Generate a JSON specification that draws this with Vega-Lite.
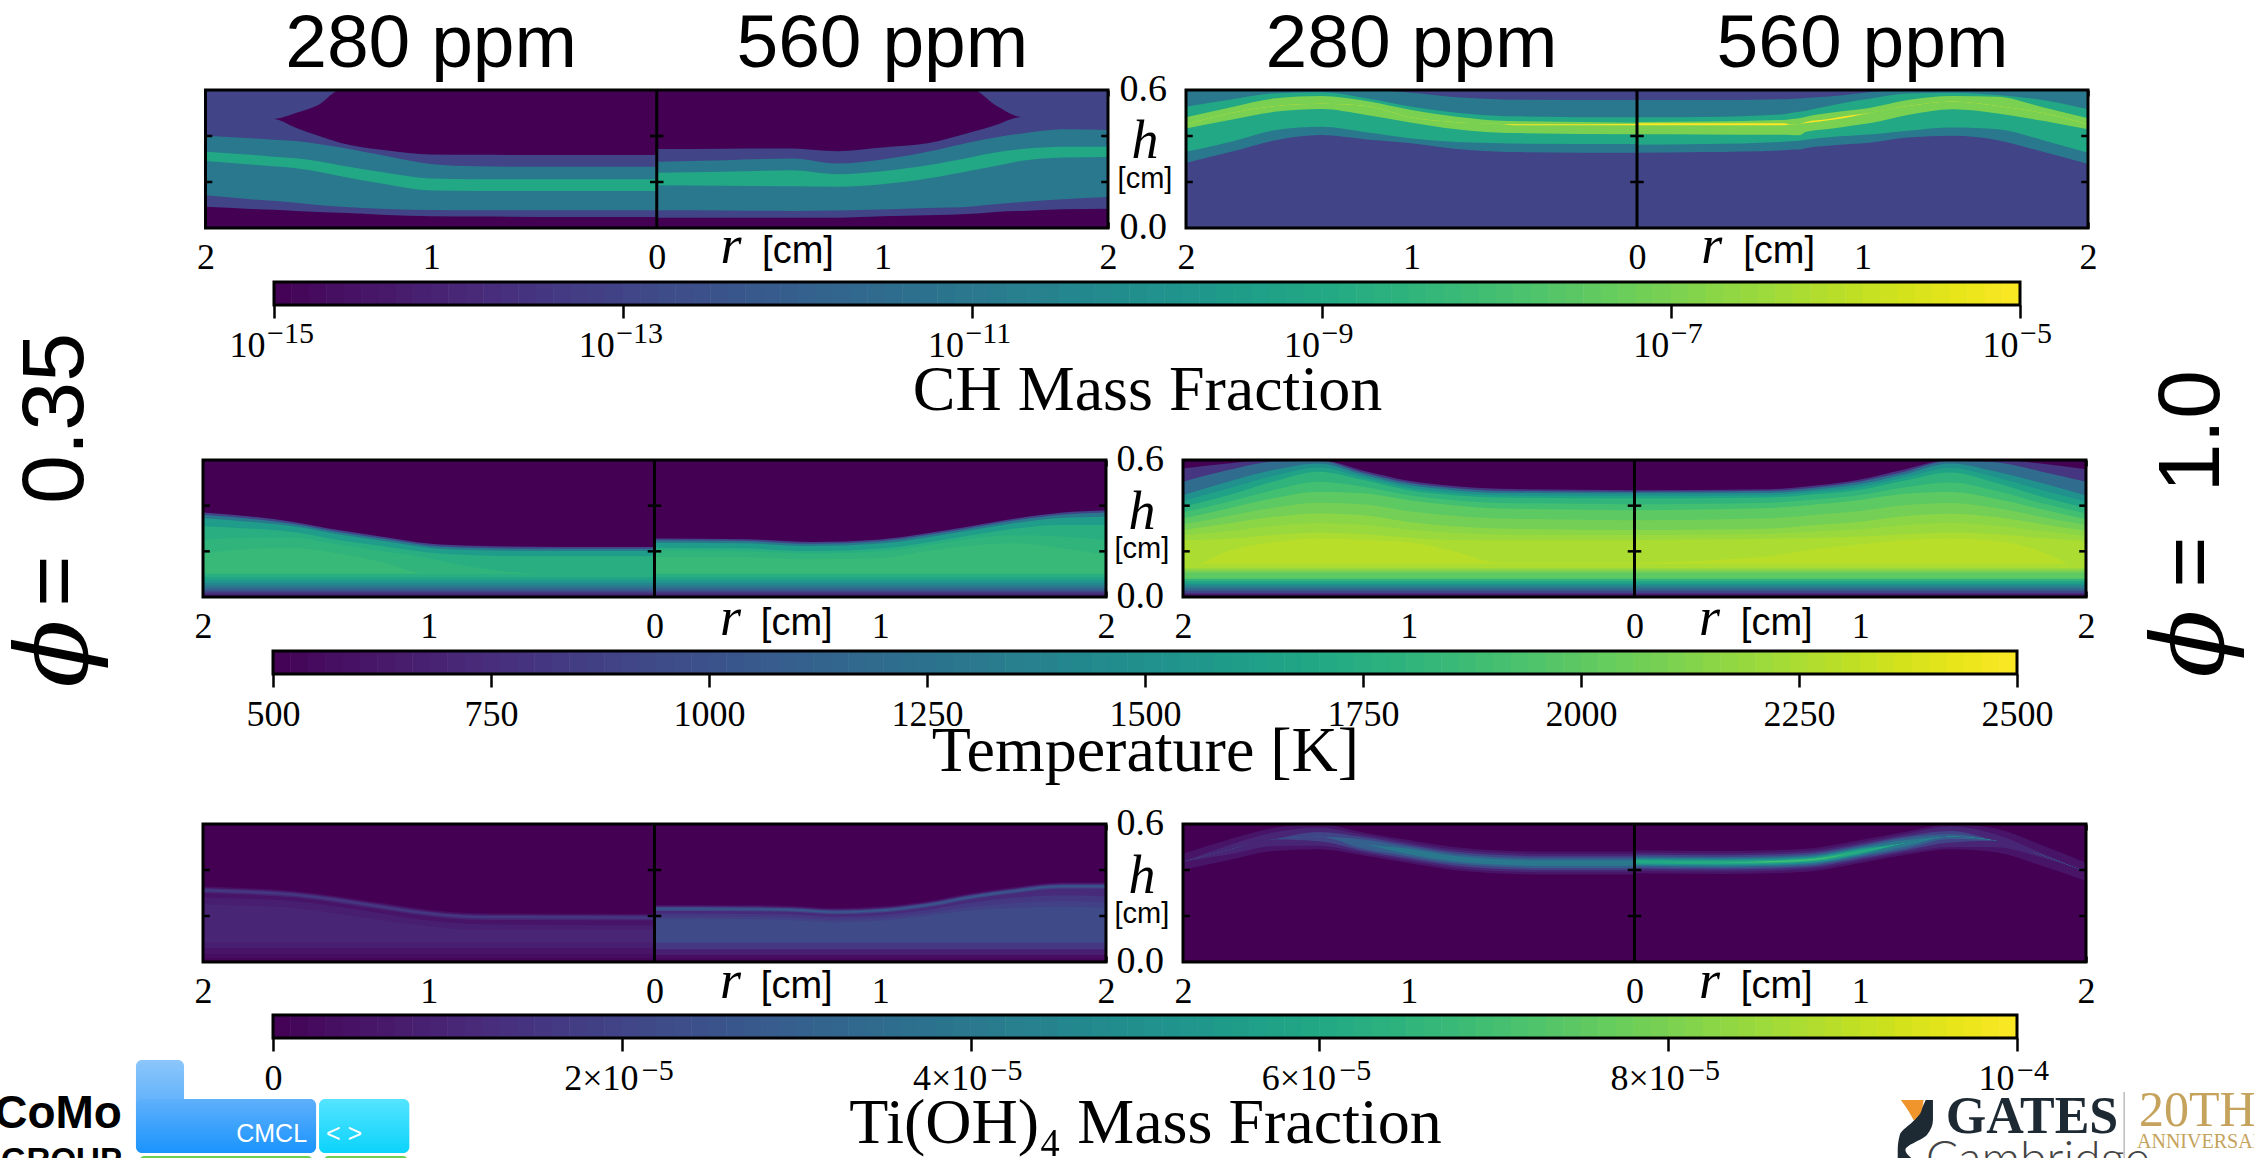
{"$schema":"https://vega.github.io/schema/vega-lite/v6.json","width":2254,"height":1158,"autosize":{"type":"none"},"padding":0,"background":"white",
"config":{"view":{"stroke":null},"legend":{"disable":true},"axis":{"zindex":1,"grid":false,"domain":false,"tickColor":"black","tickWidth":2.5,"labelFont":"Liberation Serif","labelFontSize":36,"labelColor":"black","labelOverlap":false,"labelFlush":false,"labelBound":false,"titleFont":"Liberation Serif","titleFontWeight":"normal","titleColor":"black","titleFontSize":64,"titleBaseline":"alphabetic"},
"style":{"ppm":{"font":"Liberation Sans","fontSize":75,"align":"center","baseline":"alphabetic"},"rl":{"font":"Liberation Serif","fontStyle":"italic","fontSize":54,"align":"center","baseline":"alphabetic"},"cm":{"font":"Liberation Sans","fontSize":38,"align":"center","baseline":"alphabetic"},"cm2":{"font":"Liberation Sans","fontSize":29,"align":"center","baseline":"alphabetic"},"yl":{"font":"Liberation Serif","fontSize":38,"align":"right","baseline":"middle"},"sup":{"font":"Liberation Serif","fontSize":30,"align":"left","baseline":"alphabetic"},"phi":{"font":"DejaVu Serif","fontStyle":"italic","fontSize":100,"angle":270,"align":"center","baseline":"middle"},"phn":{"font":"Liberation Sans","fontSize":88,"angle":270,"align":"center","baseline":"middle"},"como":{"font":"Liberation Sans","fontWeight":"bold","fontSize":46,"align":"right","baseline":"alphabetic"},"grp":{"font":"Liberation Sans","fontWeight":"bold","fontSize":33,"align":"right","baseline":"alphabetic"},"wt":{"font":"Liberation Sans","fontSize":25,"align":"right","baseline":"alphabetic"},"gates":{"font":"Liberation Serif","fontWeight":"bold","fontSize":52,"align":"left","baseline":"alphabetic"},"camb":{"font":"Lato","fontWeight":300,"fontSize":48,"align":"left","baseline":"alphabetic"},"gold":{"font":"Liberation Serif","fontSize":50,"align":"left","baseline":"alphabetic"},"gold2":{"font":"Liberation Serif","fontSize":20,"align":"left","baseline":"alphabetic"}}},
"resolve":{"scale":{"x":"independent","y":"independent","color":"independent","stroke":"independent"},"axis":{"x":"independent","y":"independent"}},
"datasets":{
"o":[{"r":0,"h":0}],
"yt":[{"r":-2,"r2":-1.97,"h":0.2},{"r":-2,"r2":-1.97,"h":0.4},{"r":-0.03,"r2":0.03,"h":0.2},{"r":-0.03,"r2":0.03,"h":0.4},{"r":1.97,"r2":2,"h":0.2},{"r":1.97,"r2":2,"h":0.4}],
"ch1a":[
{"r":-2,"-13":0.6,"-15":0.474,"-013":0.474,"-11":0.401,"-9":0.331,"-011":0.291,"-0013":0.142,"-015":0.092},
{"r":-1.8,"-13":0.6,"-15":0.474,"-013":0.474,"-11":0.39,"-9":0.318,"-011":0.276,"-0013":0.125,"-015":0.083},
{"r":-1.7,"-13":0.6,"-15":0.474,"-013":0.474,"-11":0.384,"-9":0.31,"-011":0.268,"-0013":0.118,"-015":0.079},
{"r":-1.6,"-13":0.6,"-15":0.5,"-013":0.436,"-11":0.378,"-9":0.303,"-011":0.26,"-0013":0.11,"-015":0.074},
{"r":-1.5,"-13":0.6,"-15":0.535,"-013":0.401,"-11":0.365,"-9":0.29,"-011":0.245,"-0013":0.1,"-015":0.07},
{"r":-1.4,"-13":0.6,"-15":0.6,"-013":0.37,"-11":0.35,"-9":0.272,"-011":0.225,"-0013":0.092,"-015":0.066},
{"r":-1.2,"-13":0.6,"-15":0.6,"-013":0.338,"-11":0.313,"-9":0.24,"-011":0.19,"-0013":0.083,"-015":0.057},
{"r":-1,"-13":0.6,"-15":0.6,"-013":0.32,"-11":0.278,"-9":0.215,"-011":0.163,"-0013":0.078,"-015":0.051},
{"r":-0.8,"-13":0.6,"-15":0.6,"-013":0.318,"-11":0.268,"-9":0.212,"-011":0.161,"-0013":0.077,"-015":0.05},
{"r":-0.4,"-13":0.6,"-15":0.6,"-013":0.317,"-11":0.266,"-9":0.212,"-011":0.161,"-0013":0.077,"-015":0.048},
{"r":0,"-13":0.6,"-15":0.6,"-013":0.317,"-11":0.266,"-9":0.212,"-011":0.161,"-0013":0.077,"-015":0.048}],
"ch1b":[
{"r":0,"-13":0.6,"-15":0.6,"-013":0.343,"-11":0.288,"-9":0.24,"-011":0.186,"-0013":0.077,"-015":0.045},
{"r":0.3,"-13":0.6,"-15":0.6,"-013":0.345,"-11":0.295,"-9":0.245,"-011":0.184,"-0013":0.076,"-015":0.045},
{"r":0.6,"-13":0.6,"-15":0.6,"-013":0.346,"-11":0.302,"-9":0.251,"-011":0.181,"-0013":0.074,"-015":0.045},
{"r":0.8,"-13":0.6,"-15":0.6,"-013":0.334,"-11":0.28,"-9":0.234,"-011":0.179,"-0013":0.076,"-015":0.045},
{"r":1,"-13":0.6,"-15":0.6,"-013":0.35,"-11":0.298,"-9":0.247,"-011":0.19,"-0013":0.08,"-015":0.051},
{"r":1.2,"-13":0.6,"-15":0.6,"-013":0.368,"-11":0.331,"-9":0.273,"-011":0.215,"-0013":0.087,"-015":0.055},
{"r":1.4,"-13":0.6,"-15":0.6,"-013":0.418,"-11":0.375,"-9":0.309,"-011":0.251,"-0013":0.094,"-015":0.062},
{"r":1.5,"-13":0.6,"-15":0.535,"-013":0.447,"-11":0.394,"-9":0.328,"-011":0.27,"-0013":0.103,"-015":0.07},
{"r":1.62,"-13":0.6,"-15":0.483,"-013":0.483,"-11":0.411,"-9":0.343,"-011":0.292,"-0013":0.113,"-015":0.074},
{"r":1.8,"-13":0.6,"-15":0.483,"-013":0.483,"-11":0.429,"-9":0.353,"-011":0.307,"-0013":0.125,"-015":0.081},
{"r":2,"-13":0.6,"-15":0.483,"-013":0.483,"-11":0.426,"-9":0.353,"-011":0.309,"-0013":0.135,"-015":0.084}],
"ch2a":[
{"r":-2,"-13":0.6,"-11":0.6,"-9":0.527,"-7":0.481,"-5":0.45,"-07":0.45,"-09":0.433,"-011":0.331,"-013":0.283},
{"r":-1.8,"-13":0.6,"-11":0.6,"-9":0.559,"-7":0.525,"-5":0.5,"-07":0.5,"-09":0.471,"-011":0.375,"-013":0.331},
{"r":-1.6,"-13":0.6,"-11":0.6,"-9":0.586,"-7":0.564,"-5":0.53,"-07":0.53,"-09":0.506,"-011":0.426,"-013":0.382},
{"r":-1.4,"-13":0.6,"-11":0.6,"-9":0.59,"-7":0.574,"-5":0.54,"-07":0.54,"-09":0.517,"-011":0.44,"-013":0.404},
{"r":-1.2,"-13":0.6,"-11":0.6,"-9":0.564,"-7":0.552,"-5":0.53,"-07":0.53,"-09":0.491,"-011":0.416,"-013":0.385},
{"r":-1,"-13":0.6,"-11":0.588,"-9":0.527,"-7":0.513,"-5":0.48,"-07":0.48,"-09":0.458,"-011":0.389,"-013":0.368},
{"r":-0.8,"-13":0.6,"-11":0.568,"-9":0.501,"-7":0.484,"-5":0.46,"-07":0.46,"-09":0.429,"-011":0.374,"-013":0.343},
{"r":-0.6,"-13":0.6,"-11":0.559,"-9":0.487,"-7":0.466,"-5":0.452,"-07":0.452,"-09":0.414,"-011":0.368,"-013":0.331},
{"r":-0.55,"-13":0.6,"-11":0.558,"-9":0.486,"-7":0.465,"-5":0.451,"-07":0.447,"-09":0.413,"-011":0.367,"-013":0.33},
{"r":0,"-13":0.6,"-11":0.556,"-9":0.481,"-7":0.458,"-5":0.452,"-07":0.447,"-09":0.408,"-011":0.365,"-013":0.327}],
"ch2b":[
{"r":0,"-13":0.6,"-11":0.556,"-9":0.481,"-7":0.461,"-5":0.455,"-07":0.447,"-09":0.408,"-011":0.362,"-013":0.327},
{"r":0.3,"-13":0.6,"-11":0.556,"-9":0.483,"-7":0.463,"-5":0.455,"-07":0.447,"-09":0.407,"-011":0.365,"-013":0.33},
{"r":0.65,"-13":0.6,"-11":0.56,"-9":0.495,"-7":0.47,"-5":0.455,"-07":0.447,"-09":0.405,"-011":0.375,"-013":0.338},
{"r":0.68,"-13":0.6,"-11":0.561,"-9":0.5,"-7":0.473,"-5":0.45,"-07":0.45,"-09":0.404,"-011":0.377,"-013":0.34},
{"r":0.72,"-13":0.6,"-11":0.563,"-9":0.505,"-7":0.477,"-5":0.452,"-07":0.452,"-09":0.403,"-011":0.379,"-013":0.341},
{"r":0.75,"-13":0.6,"-11":0.565,"-9":0.51,"-7":0.484,"-5":0.461,"-07":0.456,"-09":0.418,"-011":0.384,"-013":0.348},
{"r":0.85,"-13":0.6,"-11":0.572,"-9":0.53,"-7":0.5,"-5":0.474,"-07":0.468,"-09":0.43,"-011":0.395,"-013":0.358},
{"r":0.95,"-13":0.6,"-11":0.582,"-9":0.55,"-7":0.512,"-5":0.49,"-07":0.484,"-09":0.445,"-011":0.401,"-013":0.365},
{"r":1.03,"-13":0.6,"-11":0.59,"-9":0.562,"-7":0.522,"-5":0.5,"-07":0.5,"-09":0.455,"-011":0.406,"-013":0.371},
{"r":1.2,"-13":0.6,"-11":0.6,"-9":0.585,"-7":0.556,"-5":0.53,"-07":0.53,"-09":0.491,"-011":0.423,"-013":0.394},
{"r":1.4,"-13":0.6,"-11":0.6,"-9":0.588,"-7":0.574,"-5":0.55,"-07":0.55,"-09":0.516,"-011":0.437,"-013":0.401},
{"r":1.6,"-13":0.6,"-11":0.6,"-9":0.578,"-7":0.571,"-5":0.53,"-07":0.53,"-09":0.498,"-011":0.429,"-013":0.382},
{"r":1.8,"-13":0.6,"-11":0.6,"-9":0.556,"-7":0.525,"-5":0.5,"-07":0.5,"-09":0.466,"-011":0.382,"-013":0.331},
{"r":2,"-13":0.6,"-11":0.6,"-9":0.516,"-7":0.477,"-5":0.45,"-07":0.45,"-09":0.429,"-011":0.327,"-013":0.278}],
"t1a":[
{"r":-2,"0500":0.6,"0900":0.37,"1300":0.36,"1600":0.345,"1750":0.31,"1800":0.25,"1850":0.19},
{"r":-1.8,"0500":0.6,"0900":0.354,"1300":0.344,"1600":0.33,"1750":0.3,"1800":0.26,"1850":0.21},
{"r":-1.6,"0500":0.6,"0900":0.329,"1300":0.32,"1600":0.31,"1750":0.285,"1800":0.26,"1850":0.215},
{"r":-1.4,"0500":0.6,"0900":0.293,"1300":0.285,"1600":0.275,"1750":0.25,"1800":0.23,"1850":0.19},
{"r":-1.2,"0500":0.6,"0900":0.263,"1300":0.255,"1600":0.245,"1750":0.222,"1800":0.2,"1850":0.15},
{"r":-1,"0500":0.6,"0900":0.234,"1300":0.226,"1600":0.216,"1750":0.195,"1800":0.17,"1850":0.1},
{"r":-0.8,"0500":0.6,"0900":0.224,"1300":0.216,"1600":0.206,"1750":0.183,"1800":0.13,"1850":0.1},
{"r":-0.4,"0500":0.6,"0900":0.219,"1300":0.211,"1600":0.201,"1750":0.178,"1800":0.1,"1850":0.1},
{"r":0,"0500":0.6,"0900":0.219,"1300":0.211,"1600":0.201,"1750":0.178,"1800":0.1,"1850":0.1}],
"t1b":[
{"r":0,"0500":0.6,"0900":0.256,"1300":0.248,"1600":0.238,"1750":0.216,"1800":0.205,"1850":0.175},
{"r":0.4,"0500":0.6,"0900":0.253,"1300":0.245,"1600":0.235,"1750":0.213,"1800":0.2,"1850":0.175},
{"r":0.7,"0500":0.6,"0900":0.241,"1300":0.233,"1600":0.223,"1750":0.201,"1800":0.19,"1850":0.165},
{"r":1,"0500":0.6,"0900":0.252,"1300":0.244,"1600":0.234,"1750":0.212,"1800":0.2,"1850":0.17},
{"r":1.2,"0500":0.6,"0900":0.278,"1300":0.27,"1600":0.26,"1750":0.238,"1800":0.225,"1850":0.2},
{"r":1.4,"0500":0.6,"0900":0.31,"1300":0.302,"1600":0.292,"1750":0.27,"1800":0.255,"1850":0.225},
{"r":1.6,"0500":0.6,"0900":0.344,"1300":0.336,"1600":0.324,"1750":0.3,"1800":0.27,"1850":0.235},
{"r":1.8,"0500":0.6,"0900":0.369,"1300":0.36,"1600":0.346,"1750":0.315,"1800":0.265,"1850":0.215},
{"r":2,"0500":0.6,"0900":0.38,"1300":0.37,"1600":0.352,"1750":0.315,"1800":0.25,"1850":0.185}],
"t1c":[{"r":-2,"01750":0.102,"01650":0.087,"01550":0.073,"01420":0.062,"01300":0.051,"01150":0.041,"01000":0.032,"0850":0.023,"0700":0.015},{"r":2,"01750":0.102,"01650":0.087,"01550":0.073,"01420":0.062,"01300":0.051,"01150":0.041,"01000":0.032,"0850":0.023,"0700":0.015}],
"t2a":[
{"r":-2,"0500":0.6,"0800":0.563,"1200":0.505,"1500":0.446,"1650":0.42,"1800":0.395,"1900":0.37,"2000":0.344,"2075":0.318,"2150":0.293,"2200":0.271,"2250":0.249,"2290":0.1},
{"r":-1.8,"0500":0.6,"0800":0.585,"1200":0.556,"1500":0.505,"1650":0.475,"1800":0.446,"1900":0.417,"2000":0.388,"2075":0.355,"2150":0.322,"2200":0.288,"2250":0.255,"2290":0.2},
{"r":-1.6,"0500":0.6,"0800":0.6,"1200":0.593,"1500":0.556,"1650":0.53,"1800":0.505,"1900":0.468,"2000":0.432,"2075":0.391,"2150":0.351,"2200":0.311,"2250":0.271,"2290":0.24},
{"r":-1.4,"0500":0.6,"0800":0.6,"1200":0.597,"1500":0.585,"1650":0.567,"1800":0.549,"1900":0.505,"2000":0.461,"2075":0.413,"2150":0.366,"2200":0.323,"2250":0.281,"2290":0.255},
{"r":-1.2,"0500":0.6,"0800":0.553,"1200":0.544,"1500":0.534,"1650":0.523,"1800":0.512,"1900":0.483,"2000":0.454,"2075":0.406,"2150":0.358,"2200":0.316,"2250":0.275,"2290":0.25},
{"r":-1,"0500":0.6,"0800":0.509,"1200":0.5,"1500":0.49,"1650":0.479,"1800":0.468,"1900":0.446,"2000":0.424,"2075":0.376,"2150":0.329,"2200":0.294,"2250":0.26,"2290":0.24},
{"r":-0.8,"0500":0.6,"0800":0.486,"1200":0.477,"1500":0.468,"1650":0.457,"1800":0.446,"1900":0.424,"2000":0.402,"2075":0.356,"2150":0.31,"2200":0.28,"2250":0.25,"2290":0.2},
{"r":-0.6,"0500":0.6,"0800":0.474,"1200":0.465,"1500":0.456,"1650":0.446,"1800":0.436,"1900":0.412,"2000":0.388,"2075":0.344,"2150":0.3,"2200":0.274,"2250":0.249,"2290":0.15},
{"r":0,"0500":0.6,"0800":0.468,"1200":0.461,"1500":0.454,"1650":0.443,"1800":0.432,"1900":0.406,"2000":0.38,"2075":0.336,"2150":0.293,"2200":0.271,"2250":0.249,"2290":0.15}],
"t2b":[
{"r":0,"0500":0.6,"0800":0.468,"1200":0.461,"1500":0.454,"1650":0.443,"1800":0.432,"1900":0.406,"2000":0.38,"2075":0.336,"2150":0.293,"2200":0.271,"2250":0.25,"2290":0.15},
{"r":0.6,"0500":0.6,"0800":0.472,"1200":0.465,"1500":0.456,"1650":0.446,"1800":0.436,"1900":0.413,"2000":0.39,"2075":0.345,"2150":0.3,"2200":0.277,"2250":0.255,"2290":0.18},
{"r":0.8,"0500":0.6,"0800":0.488,"1200":0.48,"1500":0.47,"1650":0.46,"1800":0.45,"1900":0.427,"2000":0.405,"2075":0.36,"2150":0.315,"2200":0.287,"2250":0.26,"2290":0.21},
{"r":1,"0500":0.6,"0800":0.515,"1200":0.506,"1500":0.495,"1650":0.482,"1800":0.47,"1900":0.447,"2000":0.425,"2075":0.377,"2150":0.33,"2200":0.297,"2250":0.265,"2290":0.23},
{"r":1.2,"0500":0.6,"0800":0.56,"1200":0.55,"1500":0.538,"1650":0.524,"1800":0.51,"1900":0.481,"2000":0.452,"2075":0.403,"2150":0.355,"2200":0.315,"2250":0.275,"2290":0.25},
{"r":1.4,"0500":0.6,"0800":0.6,"1200":0.597,"1500":0.585,"1650":0.565,"1800":0.545,"1900":0.502,"2000":0.46,"2075":0.412,"2150":0.365,"2200":0.324,"2250":0.283,"2290":0.255},
{"r":1.6,"0500":0.6,"0800":0.6,"1200":0.59,"1500":0.55,"1650":0.525,"1800":0.5,"1900":0.465,"2000":0.43,"2075":0.39,"2150":0.35,"2200":0.312,"2250":0.275,"2290":0.245},
{"r":1.8,"0500":0.6,"0800":0.585,"1200":0.55,"1500":0.5,"1650":0.47,"1800":0.44,"1900":0.412,"2000":0.385,"2075":0.352,"2150":0.32,"2200":0.289,"2250":0.258,"2290":0.2},
{"r":2,"0500":0.6,"0800":0.56,"1200":0.505,"1500":0.445,"1650":0.417,"1800":0.39,"1900":0.365,"2000":0.34,"2075":0.315,"2150":0.29,"2200":0.267,"2250":0.245,"2290":0.1}],
"t2c":[{"r":-2,"02250":0.146,"02150":0.125,"02075":0.115,"02000":0.105,"01800":0.08,"01650":0.069,"01500":0.058,"01350":0.049,"01200":0.04,"01050":0.032,"00900":0.025,"00750":0.018,"00600":0.012},{"r":2,"02250":0.146,"02150":0.125,"02075":0.115,"02000":0.105,"01800":0.08,"01650":0.069,"01500":0.058,"01350":0.049,"01200":0.04,"01050":0.032,"00900":0.025,"00750":0.018,"00600":0.012}],
"i1a":[
{"r":-2,"0":0.6,"4e-6":0.328,"1e-5":0.322,"16e-6":0.317,"01e-5":0.307,"05e-6":0.3,"8e-6":0.28,"001e-5":0.25},
{"r":-1.8,"0":0.6,"4e-6":0.321,"1e-5":0.315,"16e-6":0.31,"01e-5":0.3,"05e-6":0.293,"8e-6":0.275,"001e-5":0.245},
{"r":-1.6,"0":0.6,"4e-6":0.309,"1e-5":0.303,"16e-6":0.298,"01e-5":0.288,"05e-6":0.281,"8e-6":0.265,"001e-5":0.235},
{"r":-1.4,"0":0.6,"4e-6":0.285,"1e-5":0.279,"16e-6":0.274,"01e-5":0.264,"05e-6":0.257,"8e-6":0.24,"001e-5":0.21},
{"r":-1.2,"0":0.6,"4e-6":0.255,"1e-5":0.249,"16e-6":0.244,"01e-5":0.234,"05e-6":0.227,"8e-6":0.21,"001e-5":0.18},
{"r":-1,"0":0.6,"4e-6":0.227,"1e-5":0.221,"16e-6":0.216,"01e-5":0.206,"05e-6":0.199,"8e-6":0.18,"001e-5":0.155},
{"r":-0.8,"0":0.6,"4e-6":0.212,"1e-5":0.206,"16e-6":0.201,"01e-5":0.191,"05e-6":0.184,"8e-6":0.165,"001e-5":0.14},
{"r":0,"0":0.6,"4e-6":0.209,"1e-5":0.203,"16e-6":0.198,"01e-5":0.188,"05e-6":0.181,"8e-6":0.16,"001e-5":0.14}],
"i1b":[
{"r":0,"0":0.6,"4e-6":0.248,"1e-5":0.243,"2e-5":0.239,"28e-6":0.234,"02e-5":0.228,"12e-6":0.222,"16e-6":0.21,"19e-6":0.198,"22e-6":0.187},
{"r":0.4,"0":0.6,"4e-6":0.247,"1e-5":0.242,"2e-5":0.238,"28e-6":0.233,"02e-5":0.227,"12e-6":0.221,"16e-6":0.209,"19e-6":0.197,"22e-6":0.186},
{"r":0.6,"0":0.6,"4e-6":0.244,"1e-5":0.239,"2e-5":0.235,"28e-6":0.23,"02e-5":0.224,"12e-6":0.218,"16e-6":0.206,"19e-6":0.194,"22e-6":0.183},
{"r":0.8,"0":0.6,"4e-6":0.234,"1e-5":0.229,"2e-5":0.225,"28e-6":0.22,"02e-5":0.214,"12e-6":0.208,"16e-6":0.196,"19e-6":0.184,"22e-6":0.173},
{"r":1,"0":0.6,"4e-6":0.241,"1e-5":0.236,"2e-5":0.232,"28e-6":0.227,"02e-5":0.221,"12e-6":0.215,"16e-6":0.203,"19e-6":0.191,"22e-6":0.18},
{"r":1.2,"0":0.6,"4e-6":0.263,"1e-5":0.258,"2e-5":0.254,"28e-6":0.249,"02e-5":0.243,"12e-6":0.237,"16e-6":0.225,"19e-6":0.212,"22e-6":0.2},
{"r":1.4,"0":0.6,"4e-6":0.299,"1e-5":0.294,"2e-5":0.29,"28e-6":0.285,"02e-5":0.279,"12e-6":0.273,"16e-6":0.258,"19e-6":0.24,"22e-6":0.225},
{"r":1.6,"0":0.6,"4e-6":0.326,"1e-5":0.321,"2e-5":0.317,"28e-6":0.312,"02e-5":0.306,"12e-6":0.3,"16e-6":0.28,"19e-6":0.257,"22e-6":0.235},
{"r":1.8,"0":0.6,"4e-6":0.346,"1e-5":0.341,"2e-5":0.337,"28e-6":0.332,"02e-5":0.326,"12e-6":0.32,"16e-6":0.29,"19e-6":0.265,"22e-6":0.24},
{"r":2,"0":0.6,"4e-6":0.346,"1e-5":0.341,"2e-5":0.337,"28e-6":0.332,"02e-5":0.326,"12e-6":0.32,"16e-6":0.285,"19e-6":0.26,"22e-6":0.235}],
"i1c":[{"r":-2,"008e-6":0.085,"005e-6":0.06,"003e-6":0.035,"01e-6":0.017},{"r":0,"008e-6":0.085,"005e-6":0.06,"003e-6":0.035,"01e-6":0.017}],
"i1d":[{"r":0,"016e-6":0.085,"008e-6":0.055,"003e-6":0.03,"01e-6":0.015},{"r":2,"016e-6":0.085,"008e-6":0.055,"003e-6":0.03,"01e-6":0.015}],
"i2a":[
{"r":-2,"0":0.6,"5e-6":0.471,"1e-5":0.436,"2e-5":0.436,"3e-5":0.436,"4e-5":0.436,"03e-5":0.436,"02e-5":0.436,"01e-5":0.436,"05e-6":0.436,"00":0.401},
{"r":-1.8,"0":0.6,"5e-6":0.532,"1e-5":0.507,"2e-5":0.487,"3e-5":0.487,"4e-5":0.487,"03e-5":0.487,"02e-5":0.487,"01e-5":0.487,"05e-6":0.467,"00":0.442},
{"r":-1.6,"0":0.6,"5e-6":0.583,"1e-5":0.563,"2e-5":0.533,"3e-5":0.533,"4e-5":0.533,"03e-5":0.533,"02e-5":0.533,"01e-5":0.533,"05e-6":0.503,"00":0.483},
{"r":-1.4,"0":0.6,"5e-6":0.6,"1e-5":0.585,"2e-5":0.565,"3e-5":0.545,"4e-5":0.545,"03e-5":0.545,"02e-5":0.545,"01e-5":0.525,"05e-6":0.505,"00":0.49},
{"r":-1.2,"0":0.6,"5e-6":0.563,"1e-5":0.553,"2e-5":0.543,"3e-5":0.533,"4e-5":0.513,"03e-5":0.513,"02e-5":0.492,"01e-5":0.483,"05e-6":0.473,"00":0.463},
{"r":-1,"0":0.6,"5e-6":0.53,"1e-5":0.52,"2e-5":0.51,"3e-5":0.501,"4e-5":0.492,"03e-5":0.468,"02e-5":0.459,"01e-5":0.45,"05e-6":0.44,"00":0.43},
{"r":-0.8,"0":0.6,"5e-6":0.5,"1e-5":0.49,"2e-5":0.48,"3e-5":0.471,"4e-5":0.462,"03e-5":0.438,"02e-5":0.429,"01e-5":0.42,"05e-6":0.41,"00":0.4},
{"r":-0.4,"0":0.6,"5e-6":0.48,"1e-5":0.47,"2e-5":0.46,"3e-5":0.451,"4e-5":0.442,"03e-5":0.418,"02e-5":0.409,"01e-5":0.4,"05e-6":0.39,"00":0.38},
{"r":0,"0":0.6,"5e-6":0.48,"1e-5":0.47,"2e-5":0.46,"3e-5":0.451,"4e-5":0.442,"03e-5":0.418,"02e-5":0.409,"01e-5":0.4,"05e-6":0.39,"00":0.38}],
"i2b":[
{"r":0,"0":0.6,"5e-6":0.486,"1e-5":0.476,"2e-5":0.467,"3e-5":0.46,"4e-5":0.454,"5e-5":0.449,"6e-5":0.444,"7e-5":0.436,"06e-5":0.436,"05e-5":0.428,"04e-5":0.423,"03e-5":0.418,"02e-5":0.412,"01e-5":0.405,"05e-6":0.396,"00":0.386},
{"r":0.4,"0":0.6,"5e-6":0.483,"1e-5":0.473,"2e-5":0.464,"3e-5":0.457,"4e-5":0.451,"5e-5":0.446,"6e-5":0.441,"7e-5":0.433,"06e-5":0.433,"05e-5":0.425,"04e-5":0.42,"03e-5":0.415,"02e-5":0.409,"01e-5":0.402,"05e-6":0.393,"00":0.383},
{"r":0.6,"0":0.6,"5e-6":0.486,"1e-5":0.476,"2e-5":0.467,"3e-5":0.46,"4e-5":0.454,"5e-5":0.449,"6e-5":0.444,"7e-5":0.439,"06e-5":0.433,"05e-5":0.428,"04e-5":0.423,"03e-5":0.418,"02e-5":0.412,"01e-5":0.405,"05e-6":0.396,"00":0.386},
{"r":0.8,"0":0.6,"5e-6":0.496,"1e-5":0.486,"2e-5":0.477,"3e-5":0.47,"4e-5":0.464,"5e-5":0.459,"6e-5":0.454,"7e-5":0.449,"06e-5":0.443,"05e-5":0.438,"04e-5":0.433,"03e-5":0.428,"02e-5":0.422,"01e-5":0.415,"05e-6":0.406,"00":0.396},
{"r":1,"0":0.6,"5e-6":0.53,"1e-5":0.52,"2e-5":0.511,"3e-5":0.504,"4e-5":0.498,"5e-5":0.493,"6e-5":0.488,"7e-5":0.48,"06e-5":0.48,"05e-5":0.472,"04e-5":0.467,"03e-5":0.462,"02e-5":0.456,"01e-5":0.449,"05e-6":0.44,"00":0.43},
{"r":1.2,"0":0.6,"5e-6":0.566,"1e-5":0.556,"2e-5":0.547,"3e-5":0.54,"4e-5":0.53,"5e-5":0.516,"6e-5":0.516,"7e-5":0.516,"06e-5":0.516,"05e-5":0.516,"04e-5":0.516,"03e-5":0.502,"02e-5":0.492,"01e-5":0.485,"05e-6":0.476,"00":0.466},
{"r":1.4,"0":0.6,"5e-6":0.6,"1e-5":0.59,"2e-5":0.57,"3e-5":0.555,"4e-5":0.545,"5e-5":0.545,"6e-5":0.545,"7e-5":0.545,"06e-5":0.545,"05e-5":0.545,"04e-5":0.545,"03e-5":0.545,"02e-5":0.535,"01e-5":0.52,"05e-6":0.5,"00":0.49},
{"r":1.6,"0":0.6,"5e-6":0.58,"1e-5":0.555,"2e-5":0.527,"3e-5":0.527,"4e-5":0.527,"5e-5":0.527,"6e-5":0.527,"7e-5":0.527,"06e-5":0.527,"05e-5":0.527,"04e-5":0.527,"03e-5":0.527,"02e-5":0.527,"01e-5":0.527,"05e-6":0.499,"00":0.477},
{"r":1.8,"0":0.6,"5e-6":0.51,"1e-5":0.475,"2e-5":0.465,"3e-5":0.465,"4e-5":0.465,"5e-5":0.465,"6e-5":0.465,"7e-5":0.465,"06e-5":0.465,"05e-5":0.465,"04e-5":0.465,"03e-5":0.465,"02e-5":0.465,"01e-5":0.465,"05e-6":0.455,"00":0.42},
{"r":2,"0":0.6,"5e-6":0.432,"1e-5":0.392,"2e-5":0.392,"3e-5":0.392,"4e-5":0.392,"5e-5":0.392,"6e-5":0.392,"7e-5":0.392,"06e-5":0.392,"05e-5":0.392,"04e-5":0.392,"03e-5":0.392,"02e-5":0.392,"01e-5":0.392,"05e-6":0.392,"00":0.352}],
"barC":[{"v":-14.95},{"v":-14.85},{"v":-14.75},{"v":-14.65},{"v":-14.55},{"v":-14.45},{"v":-14.35},{"v":-14.25},{"v":-14.15},{"v":-14.05},{"v":-13.95},{"v":-13.85},{"v":-13.75},{"v":-13.65},{"v":-13.55},{"v":-13.45},{"v":-13.35},{"v":-13.25},{"v":-13.15},{"v":-13.05},{"v":-12.95},{"v":-12.85},{"v":-12.75},{"v":-12.65},{"v":-12.55},{"v":-12.45},{"v":-12.35},{"v":-12.25},{"v":-12.15},{"v":-12.05},{"v":-11.95},{"v":-11.85},{"v":-11.75},{"v":-11.65},{"v":-11.55},{"v":-11.45},{"v":-11.35},{"v":-11.25},{"v":-11.15},{"v":-11.05},{"v":-10.95},{"v":-10.85},{"v":-10.75},{"v":-10.65},{"v":-10.55},{"v":-10.45},{"v":-10.35},{"v":-10.25},{"v":-10.15},{"v":-10.05},{"v":-9.95},{"v":-9.85},{"v":-9.75},{"v":-9.65},{"v":-9.55},{"v":-9.45},{"v":-9.35},{"v":-9.25},{"v":-9.15},{"v":-9.05},{"v":-8.95},{"v":-8.85},{"v":-8.75},{"v":-8.65},{"v":-8.55},{"v":-8.45},{"v":-8.35},{"v":-8.25},{"v":-8.15},{"v":-8.05},{"v":-7.95},{"v":-7.85},{"v":-7.75},{"v":-7.65},{"v":-7.55},{"v":-7.45},{"v":-7.35},{"v":-7.25},{"v":-7.15},{"v":-7.05},{"v":-6.95},{"v":-6.85},{"v":-6.75},{"v":-6.65},{"v":-6.55},{"v":-6.45},{"v":-6.35},{"v":-6.25},{"v":-6.15},{"v":-6.05},{"v":-5.95},{"v":-5.85},{"v":-5.75},{"v":-5.65},{"v":-5.55},{"v":-5.45},{"v":-5.35},{"v":-5.25},{"v":-5.15},{"v":-5.05}],
"barT":[{"v":510},{"v":530},{"v":550},{"v":570},{"v":590},{"v":610},{"v":630},{"v":650},{"v":670},{"v":690},{"v":710},{"v":730},{"v":750},{"v":770},{"v":790},{"v":810},{"v":830},{"v":850},{"v":870},{"v":890},{"v":910},{"v":930},{"v":950},{"v":970},{"v":990},{"v":1010},{"v":1030},{"v":1050},{"v":1070},{"v":1090},{"v":1110},{"v":1130},{"v":1150},{"v":1170},{"v":1190},{"v":1210},{"v":1230},{"v":1250},{"v":1270},{"v":1290},{"v":1310},{"v":1330},{"v":1350},{"v":1370},{"v":1390},{"v":1410},{"v":1430},{"v":1450},{"v":1470},{"v":1490},{"v":1510},{"v":1530},{"v":1550},{"v":1570},{"v":1590},{"v":1610},{"v":1630},{"v":1650},{"v":1670},{"v":1690},{"v":1710},{"v":1730},{"v":1750},{"v":1770},{"v":1790},{"v":1810},{"v":1830},{"v":1850},{"v":1870},{"v":1890},{"v":1910},{"v":1930},{"v":1950},{"v":1970},{"v":1990},{"v":2010},{"v":2030},{"v":2050},{"v":2070},{"v":2090},{"v":2110},{"v":2130},{"v":2150},{"v":2170},{"v":2190},{"v":2210},{"v":2230},{"v":2250},{"v":2270},{"v":2290},{"v":2310},{"v":2330},{"v":2350},{"v":2370},{"v":2390},{"v":2410},{"v":2430},{"v":2450},{"v":2470},{"v":2490}],
"barI":[{"v":5e-7},{"v":1.5e-6},{"v":2.5e-6},{"v":3.5e-6},{"v":4.5e-6},{"v":5.5e-6},{"v":6.5e-6},{"v":7.5e-6},{"v":8.5e-6},{"v":9.5e-6},{"v":1.05e-5},{"v":1.15e-5},{"v":1.25e-5},{"v":1.35e-5},{"v":1.45e-5},{"v":1.55e-5},{"v":1.65e-5},{"v":1.75e-5},{"v":1.85e-5},{"v":1.95e-5},{"v":2.05e-5},{"v":2.15e-5},{"v":2.25e-5},{"v":2.35e-5},{"v":2.45e-5},{"v":2.55e-5},{"v":2.65e-5},{"v":2.75e-5},{"v":2.85e-5},{"v":2.95e-5},{"v":3.05e-5},{"v":3.15e-5},{"v":3.25e-5},{"v":3.35e-5},{"v":3.45e-5},{"v":3.55e-5},{"v":3.65e-5},{"v":3.75e-5},{"v":3.85e-5},{"v":3.95e-5},{"v":4.05e-5},{"v":4.15e-5},{"v":4.25e-5},{"v":4.35e-5},{"v":4.45e-5},{"v":4.55e-5},{"v":4.65e-5},{"v":4.75e-5},{"v":4.85e-5},{"v":4.95e-5},{"v":5.05e-5},{"v":5.15e-5},{"v":5.25e-5},{"v":5.35e-5},{"v":5.45e-5},{"v":5.55e-5},{"v":5.65e-5},{"v":5.75e-5},{"v":5.85e-5},{"v":5.95e-5},{"v":6.05e-5},{"v":6.15e-5},{"v":6.25e-5},{"v":6.35e-5},{"v":6.45e-5},{"v":6.55e-5},{"v":6.65e-5},{"v":6.75e-5},{"v":6.85e-5},{"v":6.95e-5},{"v":7.05e-5},{"v":7.15e-5},{"v":7.25e-5},{"v":7.35e-5},{"v":7.45e-5},{"v":7.55e-5},{"v":7.65e-5},{"v":7.75e-5},{"v":7.85e-5},{"v":7.95e-5},{"v":8.05e-5},{"v":8.15e-5},{"v":8.25e-5},{"v":8.35e-5},{"v":8.45e-5},{"v":8.55e-5},{"v":8.65e-5},{"v":8.75e-5},{"v":8.85e-5},{"v":8.95e-5},{"v":9.05e-5},{"v":9.15e-5},{"v":9.25e-5},{"v":9.35e-5},{"v":9.45e-5},{"v":9.55e-5},{"v":9.65e-5},{"v":9.75e-5},{"v":9.85e-5},{"v":9.95e-5}]
},
"layer":[
{"encoding":{"x":{"field":"r","type":"quantitative","scale":{"domain":[-2,2],"range":[205.5,1108],"nice":false},"axis":null},"y":{"field":"h","type":"quantitative","stack":null,"scale":{"domain":[0,0.6],"range":[228,90],"nice":false},"axis":null}},"resolve":{"axis":{"x":"independent"}},"layer":[
{"data":{"name":"ch1a"},"transform":[{"fold":["-13","-15","-013","-11","-9","-011","-0013","-015"],"as":["k","h"]}],"mark":{"type":"area","interpolate":"monotone"},"encoding":{"detail":{"field":"k"},"color":{"field":"k","type":"quantitative","scale":{"domain":[-15,-5],"scheme":"viridis"}}}},
{"data":{"name":"ch1b"},"transform":[{"fold":["-13","-15","-013","-11","-9","-011","-0013","-015"],"as":["k","h"]}],"mark":{"type":"area","interpolate":"monotone"},"encoding":{"detail":{"field":"k"},"color":{"field":"k","type":"quantitative","scale":{"domain":[-15,-5],"scheme":"viridis"}}}},
{"data":{"name":"yt"},"mark":{"type":"rule","color":"black","strokeWidth":2.5},"encoding":{"x2":{"field":"r2"}}},
{"data":{"name":"o"},"mark":{"type":"rule","color":"black","strokeWidth":3},"encoding":{"x":{"datum":0},"y":{"datum":0},"y2":{"datum":0.6}}},
{"data":{"name":"o"},"mark":{"type":"rect","filled":false,"stroke":"black","strokeWidth":3},"encoding":{"x":{"datum":-2},"x2":{"datum":2},"y":{"datum":0},"y2":{"datum":0.6}}},
{"data":{"name":"o"},"mark":{"type":"point","opacity":0},"encoding":{"x":{"field":"r","type":"quantitative","scale":{"domain":[-2,2],"range":[205.5,1108],"nice":false},"axis":{"orient":"bottom","offset":-930,"title":null,"values":[-2,-1.8,-1.6,-1.4,-1.2,-1,-0.8,-0.6,-0.4,-0.2,0,0.2,0.4,0.6,0.8,1,1.2,1.4,1.6,1.8,2],"labelExpr":"datum.value%1==0?abs(datum.value):''","tickSize":{"condition":{"test":"abs(datum.value)==1","value":-10},"value":-6},"labelPadding":{"condition":{"test":"abs(datum.value)==1","value":22},"value":18}}}}},
{"data":{"name":"o"},"mark":{"type":"point","opacity":0},"encoding":{"x":{"field":"r","type":"quantitative","scale":{"domain":[-2,2],"range":[205.5,1108],"nice":false},"axis":{"orient":"top","offset":-90,"title":null,"labels":false,"values":[-2,-1.8,-1.6,-1.4,-1.2,-1,-0.8,-0.6,-0.4,-0.2,0,0.2,0.4,0.6,0.8,1,1.2,1.4,1.6,1.8,2],"tickSize":{"condition":{"test":"abs(datum.value)==1","value":-10},"value":-6}}}}},
{"data":{"values":[{"r":-1,"h":0.7,"t":"280 ppm"},{"r":1,"h":0.7,"t":"560 ppm"}]},"mark":{"type":"text","style":"ppm"},"encoding":{"text":{"field":"t"}}},
{"data":{"values":[{"r":0.329,"h":-0.152,"t":"r"}]},"mark":{"type":"text","style":"rl"},"encoding":{"text":{"field":"t"}}},
{"data":{"values":[{"r":0.626,"h":-0.152,"t":"[cm]"}]},"mark":{"type":"text","style":"cm"},"encoding":{"text":{"field":"t"}}}
]},
{"encoding":{"x":{"field":"r","type":"quantitative","scale":{"domain":[-2,2],"range":[1186,2088],"nice":false},"axis":null},"y":{"field":"h","type":"quantitative","stack":null,"scale":{"domain":[0,0.6],"range":[228,90],"nice":false},"axis":null}},"resolve":{"axis":{"x":"independent"}},"layer":[
{"data":{"name":"ch2a"},"transform":[{"fold":["-13","-11","-9","-7","-5","-07","-09","-011","-013"],"as":["k","h"]}],"mark":{"type":"area","interpolate":"monotone"},"encoding":{"detail":{"field":"k"},"color":{"field":"k","type":"quantitative","scale":{"domain":[-15,-5],"scheme":"viridis"}}}},
{"data":{"name":"ch2b"},"transform":[{"fold":["-13","-11","-9","-7","-5","-07","-09","-011","-013"],"as":["k","h"]}],"mark":{"type":"area","interpolate":"monotone"},"encoding":{"detail":{"field":"k"},"color":{"field":"k","type":"quantitative","scale":{"domain":[-15,-5],"scheme":"viridis"}}}},
{"data":{"name":"yt"},"mark":{"type":"rule","color":"black","strokeWidth":2.5},"encoding":{"x2":{"field":"r2"}}},
{"data":{"name":"o"},"mark":{"type":"rule","color":"black","strokeWidth":3},"encoding":{"x":{"datum":0},"y":{"datum":0},"y2":{"datum":0.6}}},
{"data":{"name":"o"},"mark":{"type":"rect","filled":false,"stroke":"black","strokeWidth":3},"encoding":{"x":{"datum":-2},"x2":{"datum":2},"y":{"datum":0},"y2":{"datum":0.6}}},
{"data":{"name":"o"},"mark":{"type":"point","opacity":0},"encoding":{"x":{"field":"r","type":"quantitative","scale":{"domain":[-2,2],"range":[1186,2088],"nice":false},"axis":{"orient":"bottom","offset":-930,"title":null,"values":[-2,-1.8,-1.6,-1.4,-1.2,-1,-0.8,-0.6,-0.4,-0.2,0,0.2,0.4,0.6,0.8,1,1.2,1.4,1.6,1.8,2],"labelExpr":"datum.value%1==0?abs(datum.value):''","tickSize":{"condition":{"test":"abs(datum.value)==1","value":-10},"value":-6},"labelPadding":{"condition":{"test":"abs(datum.value)==1","value":22},"value":18}}}}},
{"data":{"name":"o"},"mark":{"type":"point","opacity":0},"encoding":{"x":{"field":"r","type":"quantitative","scale":{"domain":[-2,2],"range":[1186,2088],"nice":false},"axis":{"orient":"top","offset":-90,"title":null,"labels":false,"values":[-2,-1.8,-1.6,-1.4,-1.2,-1,-0.8,-0.6,-0.4,-0.2,0,0.2,0.4,0.6,0.8,1,1.2,1.4,1.6,1.8,2],"tickSize":{"condition":{"test":"abs(datum.value)==1","value":-10},"value":-6}}}}},
{"data":{"values":[{"r":-1,"h":0.7,"t":"280 ppm"},{"r":1,"h":0.7,"t":"560 ppm"}]},"mark":{"type":"text","style":"ppm"},"encoding":{"text":{"field":"t"}}},
{"data":{"values":[{"r":0.332,"h":-0.152,"t":"r"},{"r":-2.182,"h":0.304,"t":"h"}]},"mark":{"type":"text","style":"rl"},"encoding":{"text":{"field":"t"}}},
{"data":{"values":[{"r":0.63,"h":-0.152,"t":"[cm]"}]},"mark":{"type":"text","style":"cm"},"encoding":{"text":{"field":"t"}}},
{"data":{"values":[{"r":-2.182,"h":0.175,"t":"[cm]"}]},"mark":{"type":"text","style":"cm2"},"encoding":{"text":{"field":"t"}}},
{"data":{"values":[{"r":-2.084,"h":0.6,"t":"0.6"},{"r":-2.084,"h":0,"t":"0.0"}]},"mark":{"type":"text","style":"yl"},"encoding":{"text":{"field":"t"}}}
]},
{"layer":[
{"data":{"name":"barC"},"mark":{"type":"rule","strokeWidth":18},"encoding":{"x":{"field":"v","type":"quantitative","scale":{"domain":[-15,-5],"range":[274,2020],"nice":false},"axis":{"orient":"bottom","offset":-853,"title":"CH Mass Fraction","titlePadding":46,"values":[-15,-13,-11,-9,-7,-5],"labelExpr":"'10'","labelOffset":{"condition":{"test":"datum.value<-10","value":-27},"value":-20},"tickSize":13,"labelPadding":10}},"y":{"datum":0,"scale":{"domain":[0,1],"range":[305,282]},"axis":null},"y2":{"datum":1},"color":{"field":"v","type":"quantitative","scale":{"domain":[-15,-5],"scheme":"viridis"}}}},
{"data":{"name":"o"},"mark":{"type":"rect","filled":false,"stroke":"black","strokeWidth":3},"encoding":{"x":{"datum":-15},"x2":{"datum":-5},"y":{"datum":0},"y2":{"datum":1}}},
{"data":{"values":[{"v":-15,"y":-1.65,"t":"−15"},{"v":-13,"y":-1.65,"t":"−13"},{"v":-11,"y":-1.65,"t":"−11"}]},"mark":{"type":"text","style":"sup","dx":-7},"encoding":{"x":{"field":"v","type":"quantitative"},"y":{"field":"y","type":"quantitative"},"text":{"field":"t"}}},
{"data":{"values":[{"v":-9,"y":-1.65,"t":"−9"},{"v":-7,"y":-1.65,"t":"−7"},{"v":-5,"y":-1.65,"t":"−5"}]},"mark":{"type":"text","style":"sup"},"encoding":{"x":{"field":"v","type":"quantitative"},"y":{"field":"y","type":"quantitative"},"text":{"field":"t"}}}
]},
{"encoding":{"x":{"field":"r","type":"quantitative","scale":{"domain":[-2,2],"range":[203,1106],"nice":false},"axis":null},"y":{"field":"h","type":"quantitative","stack":null,"scale":{"domain":[0,0.6],"range":[597,460],"nice":false},"axis":null}},"resolve":{"axis":{"x":"independent"}},"layer":[
{"data":{"name":"t1a"},"transform":[{"fold":["0500","0900","1300","1600","1750","1800","1850"],"as":["k","h"]}],"mark":{"type":"area","interpolate":"monotone"},"encoding":{"detail":{"field":"k"},"color":{"field":"k","type":"quantitative","scale":{"domain":[500,2500],"scheme":"viridis"}}}},
{"data":{"name":"t1b"},"transform":[{"fold":["0500","0900","1300","1600","1750","1800","1850"],"as":["k","h"]}],"mark":{"type":"area","interpolate":"monotone"},"encoding":{"detail":{"field":"k"},"color":{"field":"k","type":"quantitative","scale":{"domain":[500,2500],"scheme":"viridis"}}}},
{"data":{"name":"t1c"},"transform":[{"fold":["01750","01650","01550","01420","01300","01150","01000","0850","0700"],"as":["k","h"]}],"mark":"area","encoding":{"detail":{"field":"k"},"color":{"field":"k","type":"quantitative","scale":{"domain":[500,2500],"scheme":"viridis"}}}},
{"data":{"name":"yt"},"mark":{"type":"rule","color":"black","strokeWidth":2.5},"encoding":{"x2":{"field":"r2"}}},
{"data":{"name":"o"},"mark":{"type":"rule","color":"black","strokeWidth":3},"encoding":{"x":{"datum":0},"y":{"datum":0},"y2":{"datum":0.6}}},
{"data":{"name":"o"},"mark":{"type":"rect","filled":false,"stroke":"black","strokeWidth":3},"encoding":{"x":{"datum":-2},"x2":{"datum":2},"y":{"datum":0},"y2":{"datum":0.6}}},
{"data":{"name":"o"},"mark":{"type":"point","opacity":0},"encoding":{"x":{"field":"r","type":"quantitative","scale":{"domain":[-2,2],"range":[203,1106],"nice":false},"axis":{"orient":"bottom","offset":-561,"title":null,"values":[-2,-1.8,-1.6,-1.4,-1.2,-1,-0.8,-0.6,-0.4,-0.2,0,0.2,0.4,0.6,0.8,1,1.2,1.4,1.6,1.8,2],"labelExpr":"datum.value%1==0?abs(datum.value):''","tickSize":{"condition":{"test":"abs(datum.value)==1","value":-10},"value":-6},"labelPadding":{"condition":{"test":"abs(datum.value)==1","value":22},"value":18}}}}},
{"data":{"name":"o"},"mark":{"type":"point","opacity":0},"encoding":{"x":{"field":"r","type":"quantitative","scale":{"domain":[-2,2],"range":[203,1106],"nice":false},"axis":{"orient":"top","offset":-460,"title":null,"labels":false,"values":[-2,-1.8,-1.6,-1.4,-1.2,-1,-0.8,-0.6,-0.4,-0.2,0,0.2,0.4,0.6,0.8,1,1.2,1.4,1.6,1.8,2],"tickSize":{"condition":{"test":"abs(datum.value)==1","value":-10},"value":-6}}}}},
{"data":{"values":[{"r":0.337,"h":-0.165,"t":"r"}]},"mark":{"type":"text","style":"rl"},"encoding":{"text":{"field":"t"}}},
{"data":{"values":[{"r":0.63,"h":-0.165,"t":"[cm]"}]},"mark":{"type":"text","style":"cm"},"encoding":{"text":{"field":"t"}}},
{"data":{"values":[{"r":-2.647,"h":-0.248,"t":"ϕ"}]},"mark":{"type":"text","style":"phi"},"encoding":{"text":{"field":"t"}}},
{"data":{"values":[{"r":-2.647,"h":0.557,"t":"=\u2002\u200a0.35"}]},"mark":{"type":"text","style":"phn"},"encoding":{"text":{"field":"t"}}}
]},
{"encoding":{"x":{"field":"r","type":"quantitative","scale":{"domain":[-2,2],"range":[1183,2086],"nice":false},"axis":null},"y":{"field":"h","type":"quantitative","stack":null,"scale":{"domain":[0,0.6],"range":[597,460],"nice":false},"axis":null}},"resolve":{"axis":{"x":"independent"}},"layer":[
{"data":{"name":"t2a"},"transform":[{"fold":["0500","0800","1200","1500","1650","1800","1900","2000","2075","2150","2200","2250","2290"],"as":["k","h"]}],"mark":{"type":"area","interpolate":"monotone"},"encoding":{"detail":{"field":"k"},"color":{"field":"k","type":"quantitative","scale":{"domain":[500,2500],"scheme":"viridis"}}}},
{"data":{"name":"t2b"},"transform":[{"fold":["0500","0800","1200","1500","1650","1800","1900","2000","2075","2150","2200","2250","2290"],"as":["k","h"]}],"mark":{"type":"area","interpolate":"monotone"},"encoding":{"detail":{"field":"k"},"color":{"field":"k","type":"quantitative","scale":{"domain":[500,2500],"scheme":"viridis"}}}},
{"data":{"name":"t2c"},"transform":[{"fold":["02250","02150","02075","02000","01800","01650","01500","01350","01200","01050","00900","00750","00600"],"as":["k","h"]}],"mark":"area","encoding":{"detail":{"field":"k"},"color":{"field":"k","type":"quantitative","scale":{"domain":[500,2500],"scheme":"viridis"}}}},
{"data":{"name":"yt"},"mark":{"type":"rule","color":"black","strokeWidth":2.5},"encoding":{"x2":{"field":"r2"}}},
{"data":{"name":"o"},"mark":{"type":"rule","color":"black","strokeWidth":3},"encoding":{"x":{"datum":0},"y":{"datum":0},"y2":{"datum":0.6}}},
{"data":{"name":"o"},"mark":{"type":"rect","filled":false,"stroke":"black","strokeWidth":3},"encoding":{"x":{"datum":-2},"x2":{"datum":2},"y":{"datum":0},"y2":{"datum":0.6}}},
{"data":{"name":"o"},"mark":{"type":"point","opacity":0},"encoding":{"x":{"field":"r","type":"quantitative","scale":{"domain":[-2,2],"range":[1183,2086],"nice":false},"axis":{"orient":"bottom","offset":-561,"title":null,"values":[-2,-1.8,-1.6,-1.4,-1.2,-1,-0.8,-0.6,-0.4,-0.2,0,0.2,0.4,0.6,0.8,1,1.2,1.4,1.6,1.8,2],"labelExpr":"datum.value%1==0?abs(datum.value):''","tickSize":{"condition":{"test":"abs(datum.value)==1","value":-10},"value":-6},"labelPadding":{"condition":{"test":"abs(datum.value)==1","value":22},"value":18}}}}},
{"data":{"name":"o"},"mark":{"type":"point","opacity":0},"encoding":{"x":{"field":"r","type":"quantitative","scale":{"domain":[-2,2],"range":[1183,2086],"nice":false},"axis":{"orient":"top","offset":-460,"title":null,"labels":false,"values":[-2,-1.8,-1.6,-1.4,-1.2,-1,-0.8,-0.6,-0.4,-0.2,0,0.2,0.4,0.6,0.8,1,1.2,1.4,1.6,1.8,2],"tickSize":{"condition":{"test":"abs(datum.value)==1","value":-10},"value":-6}}}}},
{"data":{"values":[{"r":0.332,"h":-0.165,"t":"r"},{"r":-2.182,"h":0.3,"t":"h"}]},"mark":{"type":"text","style":"rl"},"encoding":{"text":{"field":"t"}}},
{"data":{"values":[{"r":0.63,"h":-0.165,"t":"[cm]"}]},"mark":{"type":"text","style":"cm"},"encoding":{"text":{"field":"t"}}},
{"data":{"values":[{"r":-2.182,"h":0.17,"t":"[cm]"}]},"mark":{"type":"text","style":"cm2"},"encoding":{"text":{"field":"t"}}},
{"data":{"values":[{"r":-2.084,"h":0.6,"t":"0.6"},{"r":-2.084,"h":0,"t":"0.0"}]},"mark":{"type":"text","style":"yl"},"encoding":{"text":{"field":"t"}}},
{"data":{"values":[{"r":2.474,"h":-0.204,"t":"ϕ"}]},"mark":{"type":"text","style":"phi"},"encoding":{"text":{"field":"t"}}},
{"data":{"values":[{"r":2.474,"h":0.517,"t":"=\u20021.0"}]},"mark":{"type":"text","style":"phn"},"encoding":{"text":{"field":"t"}}}
]},
{"layer":[
{"data":{"name":"barT"},"mark":{"type":"rule","strokeWidth":18},"encoding":{"x":{"field":"v","type":"quantitative","scale":{"domain":[500,2500],"range":[273,2017],"nice":false},"axis":{"orient":"bottom","offset":-484,"title":"Temperature [K]","titlePadding":38,"values":[500,750,1000,1250,1500,1750,2000,2250,2500],"format":"d","tickSize":13,"labelPadding":10}},"y":{"datum":0,"scale":{"domain":[0,1],"range":[674,651]},"axis":null},"y2":{"datum":1},"color":{"field":"v","type":"quantitative","scale":{"domain":[500,2500],"scheme":"viridis"}}}},
{"data":{"name":"o"},"mark":{"type":"rect","filled":false,"stroke":"black","strokeWidth":3},"encoding":{"x":{"datum":500},"x2":{"datum":2500},"y":{"datum":0},"y2":{"datum":1}}}
]},
{"encoding":{"x":{"field":"r","type":"quantitative","scale":{"domain":[-2,2],"range":[203,1106],"nice":false},"axis":null},"y":{"field":"h","type":"quantitative","stack":null,"scale":{"domain":[0,0.6],"range":[962,824],"nice":false},"axis":null}},"resolve":{"axis":{"x":"independent"}},"layer":[
{"data":{"name":"i1a"},"transform":[{"fold":["0","4e-6","1e-5","16e-6","01e-5","05e-6","8e-6","001e-5"],"as":["k","h"]}],"mark":{"type":"area","interpolate":"monotone"},"encoding":{"detail":{"field":"k"},"color":{"field":"k","type":"quantitative","scale":{"domain":[0,0.0001],"scheme":"viridis"}}}},
{"data":{"name":"i1b"},"transform":[{"fold":["0","4e-6","1e-5","2e-5","28e-6","02e-5","12e-6","16e-6","19e-6","22e-6"],"as":["k","h"]}],"mark":{"type":"area","interpolate":"monotone"},"encoding":{"detail":{"field":"k"},"color":{"field":"k","type":"quantitative","scale":{"domain":[0,0.0001],"scheme":"viridis"}}}},
{"data":{"name":"i1c"},"transform":[{"fold":["008e-6","005e-6","003e-6","01e-6"],"as":["k","h"]}],"mark":"area","encoding":{"detail":{"field":"k"},"color":{"field":"k","type":"quantitative","scale":{"domain":[0,0.0001],"scheme":"viridis"}}}},
{"data":{"name":"i1d"},"transform":[{"fold":["016e-6","008e-6","003e-6","01e-6"],"as":["k","h"]}],"mark":"area","encoding":{"detail":{"field":"k"},"color":{"field":"k","type":"quantitative","scale":{"domain":[0,0.0001],"scheme":"viridis"}}}},
{"data":{"name":"yt"},"mark":{"type":"rule","color":"black","strokeWidth":2.5},"encoding":{"x2":{"field":"r2"}}},
{"data":{"name":"o"},"mark":{"type":"rule","color":"black","strokeWidth":3},"encoding":{"x":{"datum":0},"y":{"datum":0},"y2":{"datum":0.6}}},
{"data":{"name":"o"},"mark":{"type":"rect","filled":false,"stroke":"black","strokeWidth":3},"encoding":{"x":{"datum":-2},"x2":{"datum":2},"y":{"datum":0},"y2":{"datum":0.6}}},
{"data":{"name":"o"},"mark":{"type":"point","opacity":0},"encoding":{"x":{"field":"r","type":"quantitative","scale":{"domain":[-2,2],"range":[203,1106],"nice":false},"axis":{"orient":"bottom","offset":-196,"title":null,"values":[-2,-1.8,-1.6,-1.4,-1.2,-1,-0.8,-0.6,-0.4,-0.2,0,0.2,0.4,0.6,0.8,1,1.2,1.4,1.6,1.8,2],"labelExpr":"datum.value%1==0?abs(datum.value):''","tickSize":{"condition":{"test":"abs(datum.value)==1","value":-10},"value":-6},"labelPadding":{"condition":{"test":"abs(datum.value)==1","value":22},"value":18}}}}},
{"data":{"name":"o"},"mark":{"type":"point","opacity":0},"encoding":{"x":{"field":"r","type":"quantitative","scale":{"domain":[-2,2],"range":[203,1106],"nice":false},"axis":{"orient":"top","offset":-824,"title":null,"labels":false,"values":[-2,-1.8,-1.6,-1.4,-1.2,-1,-0.8,-0.6,-0.4,-0.2,0,0.2,0.4,0.6,0.8,1,1.2,1.4,1.6,1.8,2],"tickSize":{"condition":{"test":"abs(datum.value)==1","value":-10},"value":-6}}}}},
{"data":{"values":[{"r":0.337,"h":-0.157,"t":"r"}]},"mark":{"type":"text","style":"rl"},"encoding":{"text":{"field":"t"}}},
{"data":{"values":[{"r":0.63,"h":-0.157,"t":"[cm]"}]},"mark":{"type":"text","style":"cm"},"encoding":{"text":{"field":"t"}}},
{"data":{"values":[{"r":-2.297,"r2":-2.084,"h":-0.426,"h2":-0.66}]},"mark":{"type":"rect","cornerRadius":6,"color":{"gradient":"linear","x1":0,"y1":0,"x2":0,"y2":1,"stops":[{"offset":0,"color":"#8cc6fb"},{"offset":1,"color":"#58adfb"}]}},"encoding":{"x2":{"field":"r2"},"y2":{"field":"h2"}}},
{"data":{"values":[{"r":-2.297,"r2":-1.499,"h":-0.596,"h2":-0.83}]},"mark":{"type":"rect","cornerRadius":6,"color":{"gradient":"linear","x1":0,"y1":0,"x2":0,"y2":1,"stops":[{"offset":0,"color":"#5fb0fb"},{"offset":1,"color":"#1a94fd"}]}},"encoding":{"x2":{"field":"r2"},"y2":{"field":"h2"}}},
{"data":{"values":[{"r":-1.486,"r2":-1.086,"h":-0.596,"h2":-0.83}]},"mark":{"type":"rect","cornerRadius":6,"color":{"gradient":"linear","x1":0,"y1":0,"x2":0,"y2":1,"stops":[{"offset":0,"color":"#55e4ff"},{"offset":1,"color":"#0bd3fb"}]}},"encoding":{"x2":{"field":"r2"},"y2":{"field":"h2"}}},
{"data":{"values":[{"r":-2.279,"r2":-1.517,"h":-0.843,"h2":-0.95},{"r":-1.463,"r2":-1.095,"h":-0.843,"h2":-0.95}]},"mark":{"type":"rect","cornerRadius":4,"color":"#6dcf52"},"encoding":{"x2":{"field":"r2"},"y2":{"field":"h2"}}},
{"data":{"values":[{"r":-2.359,"h":-0.722,"t":"CoMo"}]},"mark":{"type":"text","style":"como"},"encoding":{"text":{"field":"t"}}},
{"data":{"values":[{"r":-2.359,"h":-0.909,"t":"GROUP"}]},"mark":{"type":"text","style":"grp"},"encoding":{"text":{"field":"t"}}},
{"data":{"values":[{"r":-1.539,"h":-0.783,"t":"CMCL"},{"r":-1.295,"h":-0.783,"t":"< >"}]},"mark":{"type":"text","style":"wt","color":"white"},"encoding":{"text":{"field":"t"}}}
]},
{"encoding":{"x":{"field":"r","type":"quantitative","scale":{"domain":[-2,2],"range":[1183,2086],"nice":false},"axis":null},"y":{"field":"h","type":"quantitative","stack":null,"scale":{"domain":[0,0.6],"range":[962,824],"nice":false},"axis":null}},"resolve":{"axis":{"x":"independent"}},"layer":[
{"data":{"name":"i2a"},"transform":[{"fold":["0","5e-6","1e-5","2e-5","3e-5","4e-5","03e-5","02e-5","01e-5","05e-6","00"],"as":["k","h"]}],"mark":{"type":"area","interpolate":"monotone"},"encoding":{"detail":{"field":"k"},"color":{"field":"k","type":"quantitative","scale":{"domain":[0,0.0001],"scheme":"viridis"}}}},
{"data":{"name":"i2b"},"transform":[{"fold":["0","5e-6","1e-5","2e-5","3e-5","4e-5","5e-5","6e-5","7e-5","06e-5","05e-5","04e-5","03e-5","02e-5","01e-5","05e-6","00"],"as":["k","h"]}],"mark":{"type":"area","interpolate":"monotone"},"encoding":{"detail":{"field":"k"},"color":{"field":"k","type":"quantitative","scale":{"domain":[0,0.0001],"scheme":"viridis"}}}},
{"data":{"name":"yt"},"mark":{"type":"rule","color":"black","strokeWidth":2.5},"encoding":{"x2":{"field":"r2"}}},
{"data":{"name":"o"},"mark":{"type":"rule","color":"black","strokeWidth":3},"encoding":{"x":{"datum":0},"y":{"datum":0},"y2":{"datum":0.6}}},
{"data":{"name":"o"},"mark":{"type":"rect","filled":false,"stroke":"black","strokeWidth":3},"encoding":{"x":{"datum":-2},"x2":{"datum":2},"y":{"datum":0},"y2":{"datum":0.6}}},
{"data":{"name":"o"},"mark":{"type":"point","opacity":0},"encoding":{"x":{"field":"r","type":"quantitative","scale":{"domain":[-2,2],"range":[1183,2086],"nice":false},"axis":{"orient":"bottom","offset":-196,"title":null,"values":[-2,-1.8,-1.6,-1.4,-1.2,-1,-0.8,-0.6,-0.4,-0.2,0,0.2,0.4,0.6,0.8,1,1.2,1.4,1.6,1.8,2],"labelExpr":"datum.value%1==0?abs(datum.value):''","tickSize":{"condition":{"test":"abs(datum.value)==1","value":-10},"value":-6},"labelPadding":{"condition":{"test":"abs(datum.value)==1","value":22},"value":18}}}}},
{"data":{"name":"o"},"mark":{"type":"point","opacity":0},"encoding":{"x":{"field":"r","type":"quantitative","scale":{"domain":[-2,2],"range":[1183,2086],"nice":false},"axis":{"orient":"top","offset":-824,"title":null,"labels":false,"values":[-2,-1.8,-1.6,-1.4,-1.2,-1,-0.8,-0.6,-0.4,-0.2,0,0.2,0.4,0.6,0.8,1,1.2,1.4,1.6,1.8,2],"tickSize":{"condition":{"test":"abs(datum.value)==1","value":-10},"value":-6}}}}},
{"data":{"values":[{"r":0.332,"h":-0.157,"t":"r"},{"r":-2.182,"h":0.3,"t":"h"}]},"mark":{"type":"text","style":"rl"},"encoding":{"text":{"field":"t"}}},
{"data":{"values":[{"r":0.63,"h":-0.157,"t":"[cm]"}]},"mark":{"type":"text","style":"cm"},"encoding":{"text":{"field":"t"}}},
{"data":{"values":[{"r":-2.182,"h":0.17,"t":"[cm]"}]},"mark":{"type":"text","style":"cm2"},"encoding":{"text":{"field":"t"}}},
{"data":{"values":[{"r":-2.084,"h":0.6,"t":"0.6"},{"r":-2.084,"h":0,"t":"0.0"}]},"mark":{"type":"text","style":"yl"},"encoding":{"text":{"field":"t"}}},
{"data":{"values":[{"r":1.379,"h":-0.743,"t":"GATES"}]},"mark":{"type":"text","style":"gates","color":"#1e2a33"},"encoding":{"text":{"field":"t"}}},
{"data":{"values":[{"r":1.29,"h":-0.926,"t":"Cambridge"}]},"mark":{"type":"text","style":"camb","color":"#444444"},"encoding":{"text":{"field":"t"}}},
{"data":{"values":[{"r":2.235,"h":-0.713,"t":"20TH"}]},"mark":{"type":"text","style":"gold","color":"#c5a35c"},"encoding":{"text":{"field":"t"}}},
{"data":{"values":[{"r":2.226,"h":-0.809,"t":"ANNIVERSARY"}]},"mark":{"type":"text","style":"gold2","color":"#c5a35c"},"encoding":{"text":{"field":"t"}}},
{"data":{"values":[{"r":2.169,"h":-0.565,"h2":-0.86}]},"mark":{"type":"rule","color":"#bbbbbb","strokeWidth":1.5},"encoding":{"y2":{"field":"h2"}}},
{"data":{"values":[{"h":-0.6,"a":1.29,"b":1.322},{"h":-0.687,"a":1.24,"b":1.322},{"h":-0.752,"a":1.175,"b":1.295},{"h":-0.817,"a":1.166,"b":1.2},{"h":-0.86,"a":1.166,"b":1.236}]},"mark":{"type":"area","orient":"horizontal","color":"#1e2a33","interpolate":"monotone"},"encoding":{"x":{"field":"a","type":"quantitative"},"x2":{"field":"b"}}},
{"data":{"values":[{"h":-0.6,"a":1.18,"b":1.28},{"h":-0.65,"a":1.215,"b":1.27},{"h":-0.687,"a":1.236,"b":1.24}]},"mark":{"type":"area","orient":"horizontal","color":"#f0952b","interpolate":"monotone"},"encoding":{"x":{"field":"a","type":"quantitative"},"x2":{"field":"b"}}}
]},
{"layer":[
{"data":{"name":"barI"},"mark":{"type":"rule","strokeWidth":18},"encoding":{"x":{"field":"v","type":"quantitative","scale":{"domain":[0,0.0001],"range":[273,2017],"nice":false},"axis":{"orient":"bottom","offset":-120,"title":"Ti(OH)₄ Mass Fraction","titlePadding":46,"values":[0,0.00002,0.00004,0.00006,0.00008,0.0001],"labelExpr":"datum.value==0?'0':datum.value>0.00009?'10':round(datum.value*100000)+'×10'","labelOffset":{"condition":{"test":"datum.value==0","value":0},"value":-21},"tickSize":13,"labelPadding":10}},"y":{"datum":0,"scale":{"domain":[0,1],"range":[1038,1015]},"axis":null},"y2":{"datum":1},"color":{"field":"v","type":"quantitative","scale":{"domain":[0,0.0001],"scheme":"viridis"}}}},
{"data":{"name":"o"},"mark":{"type":"rect","filled":false,"stroke":"black","strokeWidth":3},"encoding":{"x":{"datum":0},"x2":{"datum":0.0001},"y":{"datum":0},"y2":{"datum":1}}},
{"data":{"values":[{"v":0.00002,"y":-1.83,"t":"−5"},{"v":0.00004,"y":-1.83,"t":"−5"},{"v":0.00006,"y":-1.83,"t":"−5"},{"v":0.00008,"y":-1.83,"t":"−5"}]},"mark":{"type":"text","style":"sup","dx":20},"encoding":{"x":{"field":"v","type":"quantitative"},"y":{"field":"y","type":"quantitative"},"text":{"field":"t"}}},
{"data":{"values":[{"v":0.0001,"y":-1.83,"t":"−4"}]},"mark":{"type":"text","style":"sup"},"encoding":{"x":{"field":"v","type":"quantitative"},"y":{"field":"y","type":"quantitative"},"text":{"field":"t"}}}
]}
]}
